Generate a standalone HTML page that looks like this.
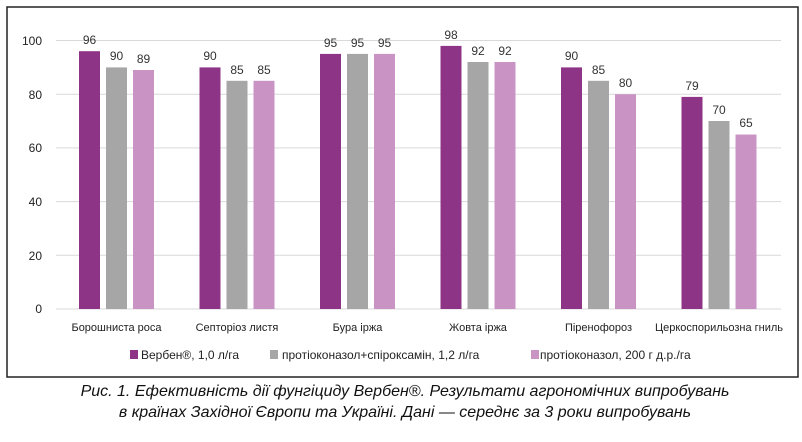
<!DOCTYPE html>
<html><head><meta charset="utf-8"><style>
body{margin:0;background:#fff;width:802px;height:437px;overflow:hidden}
svg text{font-family:"Liberation Sans","DejaVu Sans",sans-serif}
</style></head><body>
<svg width="802" height="437" xmlns="http://www.w3.org/2000/svg">
<rect x="7" y="7" width="791" height="370" fill="#fff" stroke="#222" stroke-width="1.5"/>
<g stroke="#d9d9d9" stroke-width="1">
<line x1="56" x2="781" y1="40.5" y2="40.5"/>
<line x1="56" x2="781" y1="94.2" y2="94.2"/>
<line x1="56" x2="781" y1="147.9" y2="147.9"/>
<line x1="56" x2="781" y1="201.6" y2="201.6"/>
<line x1="56" x2="781" y1="255.3" y2="255.3"/>
<line x1="56" x2="781" y1="309" y2="309"/>
</g>
<g font-size="12" fill="#222" text-anchor="end">
<text x="42" y="45">100</text><text x="42" y="99">80</text><text x="42" y="152">60</text>
<text x="42" y="206">40</text><text x="42" y="260">20</text><text x="42" y="313">0</text>
</g>
<g>
<rect x="79" y="51.2" width="21" height="257.8" fill="#8E3487"/>
<rect x="106" y="67.4" width="21" height="241.6" fill="#A6A6A6"/>
<rect x="133" y="70" width="21" height="239" fill="#C994C4"/>
<rect x="199.5" y="67.4" width="21" height="241.6" fill="#8E3487"/>
<rect x="226.5" y="80.8" width="21" height="228.2" fill="#A6A6A6"/>
<rect x="253.5" y="80.8" width="21" height="228.2" fill="#C994C4"/>
<rect x="320" y="53.9" width="21" height="255.1" fill="#8E3487"/>
<rect x="347" y="53.9" width="21" height="255.1" fill="#A6A6A6"/>
<rect x="374" y="53.9" width="21" height="255.1" fill="#C994C4"/>
<rect x="440.5" y="45.9" width="21" height="263.1" fill="#8E3487"/>
<rect x="467.5" y="62" width="21" height="247" fill="#A6A6A6"/>
<rect x="494.5" y="62" width="21" height="247" fill="#C994C4"/>
<rect x="561" y="67.4" width="21" height="241.6" fill="#8E3487"/>
<rect x="588" y="80.8" width="21" height="228.2" fill="#A6A6A6"/>
<rect x="615" y="94.2" width="21" height="214.8" fill="#C994C4"/>
<rect x="681.5" y="96.9" width="21" height="212.1" fill="#8E3487"/>
<rect x="708.5" y="121" width="21" height="188" fill="#A6A6A6"/>
<rect x="735.5" y="134.5" width="21" height="174.5" fill="#C994C4"/>
</g>
<g font-size="12" fill="#333" text-anchor="middle">
<text x="89.5" y="44">96</text><text x="116.5" y="60">90</text><text x="143.5" y="63">89</text>
<text x="210" y="60">90</text><text x="237" y="74">85</text><text x="264" y="74">85</text>
<text x="330.5" y="47">95</text><text x="357.5" y="47">95</text><text x="384.5" y="47">95</text>
<text x="451" y="39">98</text><text x="478" y="55">92</text><text x="505" y="55">92</text>
<text x="571.5" y="60">90</text><text x="598.5" y="74">85</text><text x="625.5" y="87">80</text>
<text x="692" y="90">79</text><text x="719" y="114">70</text><text x="746" y="127">65</text>
</g>
<g font-size="11" fill="#222" text-anchor="middle">
<text x="116.5" y="331">Борошниста роса</text>
<text x="237" y="331">Септоріоз листя</text>
<text x="357.5" y="331">Бура іржа</text>
<text x="478" y="331">Жовта іржа</text>
<text x="598.5" y="331">Піренофороз</text>
<text x="719" y="331">Церкоспорильозна гниль</text>
</g>
<g font-size="12" fill="#222">
<rect x="130" y="350" width="8" height="9" fill="#8E3487"/><text x="141" y="359">Вербен®, 1,0 л/га</text>
<rect x="270" y="350" width="8" height="9" fill="#A6A6A6"/><text x="282" y="359">протіоконазол+спіроксамін, 1,2 л/га</text>
<rect x="531" y="350" width="8" height="9" fill="#C994C4"/><text x="540" y="359">протіоконазол, 200 г д.р./га</text>
</g>
<g font-size="16" fill="#111" font-style="italic" text-anchor="middle">
<text x="405" y="396">Рис. 1. Ефективність дії фунгіциду Вербен®. Результати агрономічних випробувань</text>
<text x="405" y="417">в країнах Західної Європи та Україні. Дані — середнє за 3 роки випробувань</text>
</g>
</svg>
</body></html>
